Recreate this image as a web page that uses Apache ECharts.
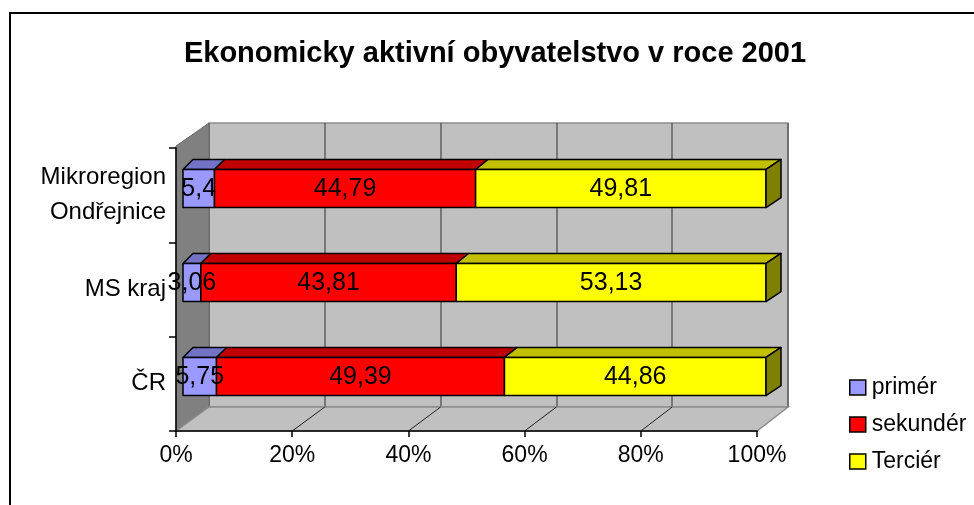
<!DOCTYPE html>
<html>
<head>
<meta charset="utf-8">
<script src="https://cdn.jsdelivr.net/npm/echarts@6/dist/echarts.min.js"></script>
<style>
html,body{margin:0;padding:0;background:#fff;}
#c{width:974px;height:505px;}
</style>
</head>
<body>
<div id="c"></div>
<script>
// ---- data ----
const categories = ['Mikroregion\nOndřejnice', 'MS kraj', 'ČR'];
const seriesNames = ['primér', 'sekundér', 'Terciér'];
const primer = [5.4, 3.06, 5.75];
const sekunder = [44.79, 43.81, 49.39];
const tercier = [49.81, 53.13, 44.86];
const xTicks = [0, 20, 40, 60, 80, 100];
const titleText = 'Ekonomicky aktivní obyvatelstvo v roce 2001';

// ---- styling / layout ----
const FONT = '"Liberation Sans", Arial, sans-serif';
const frontCols = ['#9999ff', '#ff0000', '#ffff00'];
const topCols = ['#7373c6', '#c00000', '#c0c000'];
const sideCol = '#808000';
const FRONT = {left: 176, right: 757, top: 148, bottom: 431};
const BACK = {left: 209, right: 788, top: 123, bottom: 407};
const BARS = {left: 183, right: 766, top: 141.5, bottom: 423.5};

const chart = echarts.init(document.getElementById('c'));

const allVals = [primer, sekunder, tercier];
function buildData(si) {
  return categories.map((c, ci) => {
    let s = 0;
    for (let k = 0; k < si; k++) s += allVals[k][ci];
    const v = allVals[si][ci];
    return [ci, s, s + v, v];
  });
}

function makeRender(si) {
  return function (params, api) {
    const ci = api.value(0), s = api.value(1), e = api.value(2), v = api.value(3);
    const p0 = api.coord([s, ci]);
    const p1 = api.coord([e, ci]);
    const x0 = api.coord([0, ci])[0], x100 = api.coord([100, ci])[0];
    const band = api.size([0, 1])[1];
    const h = band * 0.405;
    const yT = p0[1] - h / 2, yB = p0[1] + h / 2;
    const dxf = x => 10 + 5 * (x - x0) / (x100 - x0);
    const dy = -10;
    const a = p0[0], b = p1[0];
    const line = {stroke: '#000', lineWidth: 1.5, lineJoin: 'round'};
    const children = [
      {type: 'polygon', shape: {points: [[a, yT], [a + dxf(a), yT + dy], [b + dxf(b), yT + dy], [b, yT]]},
       style: Object.assign({fill: topCols[si]}, line)},
      {type: 'rect', shape: {x: a, y: yT, width: b - a, height: h},
       style: Object.assign({fill: frontCols[si]}, line)}
    ];
    if (si === 2) {
      children.push({type: 'polygon', shape: {points: [[b, yT], [b + dxf(b), yT + dy], [b + dxf(b), yB + dy], [b, yB]]},
        style: Object.assign({fill: sideCol}, line)});
    }
    children.push({type: 'text', z2: 100, x: (a + b) / 2, y: p0[1] + 1,
      style: {text: String(v).replace('.', ','), align: 'center', verticalAlign: 'middle',
              font: '25px ' + FONT, fill: '#000'}});
    return {type: 'group', children: children};
  };
}

const floorLines = [];
for (let i = 1; i < xTicks.length - 1; i++) {
  const fx = FRONT.left + (FRONT.right - FRONT.left) * i / (xTicks.length - 1);
  const bx = BACK.left + (BACK.right - BACK.left) * i / (xTicks.length - 1);
  floorLines.push({type: 'line', z: 1, shape: {x1: fx, y1: FRONT.bottom, x2: bx, y2: BACK.bottom},
    style: {stroke: '#202020', lineWidth: 1}});
}

const option = {
  animation: false,
  backgroundColor: '#fff',
  title: {
    text: titleText, left: 495, top: 39, textAlign: 'center', padding: 0,
    textStyle: {fontFamily: FONT, fontSize: 29, fontWeight: 'bold', color: '#000'}
  },
  legend: {
    data: seriesNames, orient: 'vertical', left: 849, top: 376, padding: 0,
    icon: 'rect', itemWidth: 16, itemHeight: 15, itemGap: 14,
    itemStyle: {borderColor: '#000', borderWidth: 1.5},
    textStyle: {fontFamily: FONT, fontSize: 23, color: '#000', padding: [0, 0, 0, 1]}
  },
  graphic: [
    {type: 'rect', z: 0, shape: {x: 10, y: 13, width: 1100, height: 700},
     style: {fill: 'none', stroke: '#000', lineWidth: 2}},
    {type: 'polygon', z: 1, shape: {points: [[FRONT.left, FRONT.top - 2], [BACK.left, BACK.top], [BACK.left, BACK.bottom], [FRONT.left, FRONT.bottom]]},
     style: {fill: '#808080', stroke: '#6a6a6a', lineWidth: 1}},
    {type: 'polygon', z: 1, shape: {points: [[FRONT.left, FRONT.bottom], [BACK.left, BACK.bottom], [BACK.right, BACK.bottom], [FRONT.right, FRONT.bottom]]},
     style: {fill: '#c0c0c0', stroke: '#8c8c8c', lineWidth: 1.5}}
  ].concat(floorLines),
  grid: [
    {left: BARS.left, top: BARS.top, width: BARS.right - BARS.left, height: BARS.bottom - BARS.top},
    {left: FRONT.left, top: FRONT.top, width: FRONT.right - FRONT.left, height: FRONT.bottom - FRONT.top, z: 3},
    {left: BACK.left, top: BACK.top, width: BACK.right - BACK.left, height: BACK.bottom - BACK.top,
     show: true, backgroundColor: '#c0c0c0', borderColor: '#8c8c8c', borderWidth: 1.5}
  ],
  xAxis: [
    {gridIndex: 0, type: 'value', min: 0, max: 100, show: false},
    {gridIndex: 1, type: 'value', min: 0, max: 100, interval: 20, z: 4,
     axisLine: {show: true, lineStyle: {color: '#000', width: 1.5}},
     axisTick: {show: true, length: 6, lineStyle: {color: '#000', width: 1.5}},
     splitLine: {show: false},
     axisLabel: {formatter: '{value}%', fontFamily: FONT, fontSize: 23, color: '#000', margin: 13}},
    {gridIndex: 2, type: 'value', min: 0, max: 100, interval: 20,
     axisLine: {show: false}, axisTick: {show: false}, axisLabel: {show: false},
     splitLine: {show: true, lineStyle: {color: '#606060', width: 1.5}}}
  ],
  yAxis: [
    {gridIndex: 0, type: 'category', data: categories, inverse: true, show: false},
    {gridIndex: 1, type: 'category', data: categories, inverse: true, z: 4,
     axisLine: {show: true, lineStyle: {color: '#000', width: 1.5}},
     axisTick: {show: true, length: 7, lineStyle: {color: '#000', width: 1.5}},
     splitLine: {show: false},
     axisLabel: {fontFamily: FONT, fontSize: 24, color: '#000', margin: 10, lineHeight: 35, align: 'right'}},
    {gridIndex: 2, type: 'category', data: categories, show: false}
  ],
  series: seriesNames.map((name, si) => ({
    name: name, type: 'custom', xAxisIndex: 0, yAxisIndex: 0, z: 5,
    itemStyle: {color: frontCols[si]},
    encode: {x: [1, 2], y: 0},
    data: buildData(si),
    renderItem: makeRender(si)
  }))
};
chart.setOption(option);
</script>
</body>
</html>
